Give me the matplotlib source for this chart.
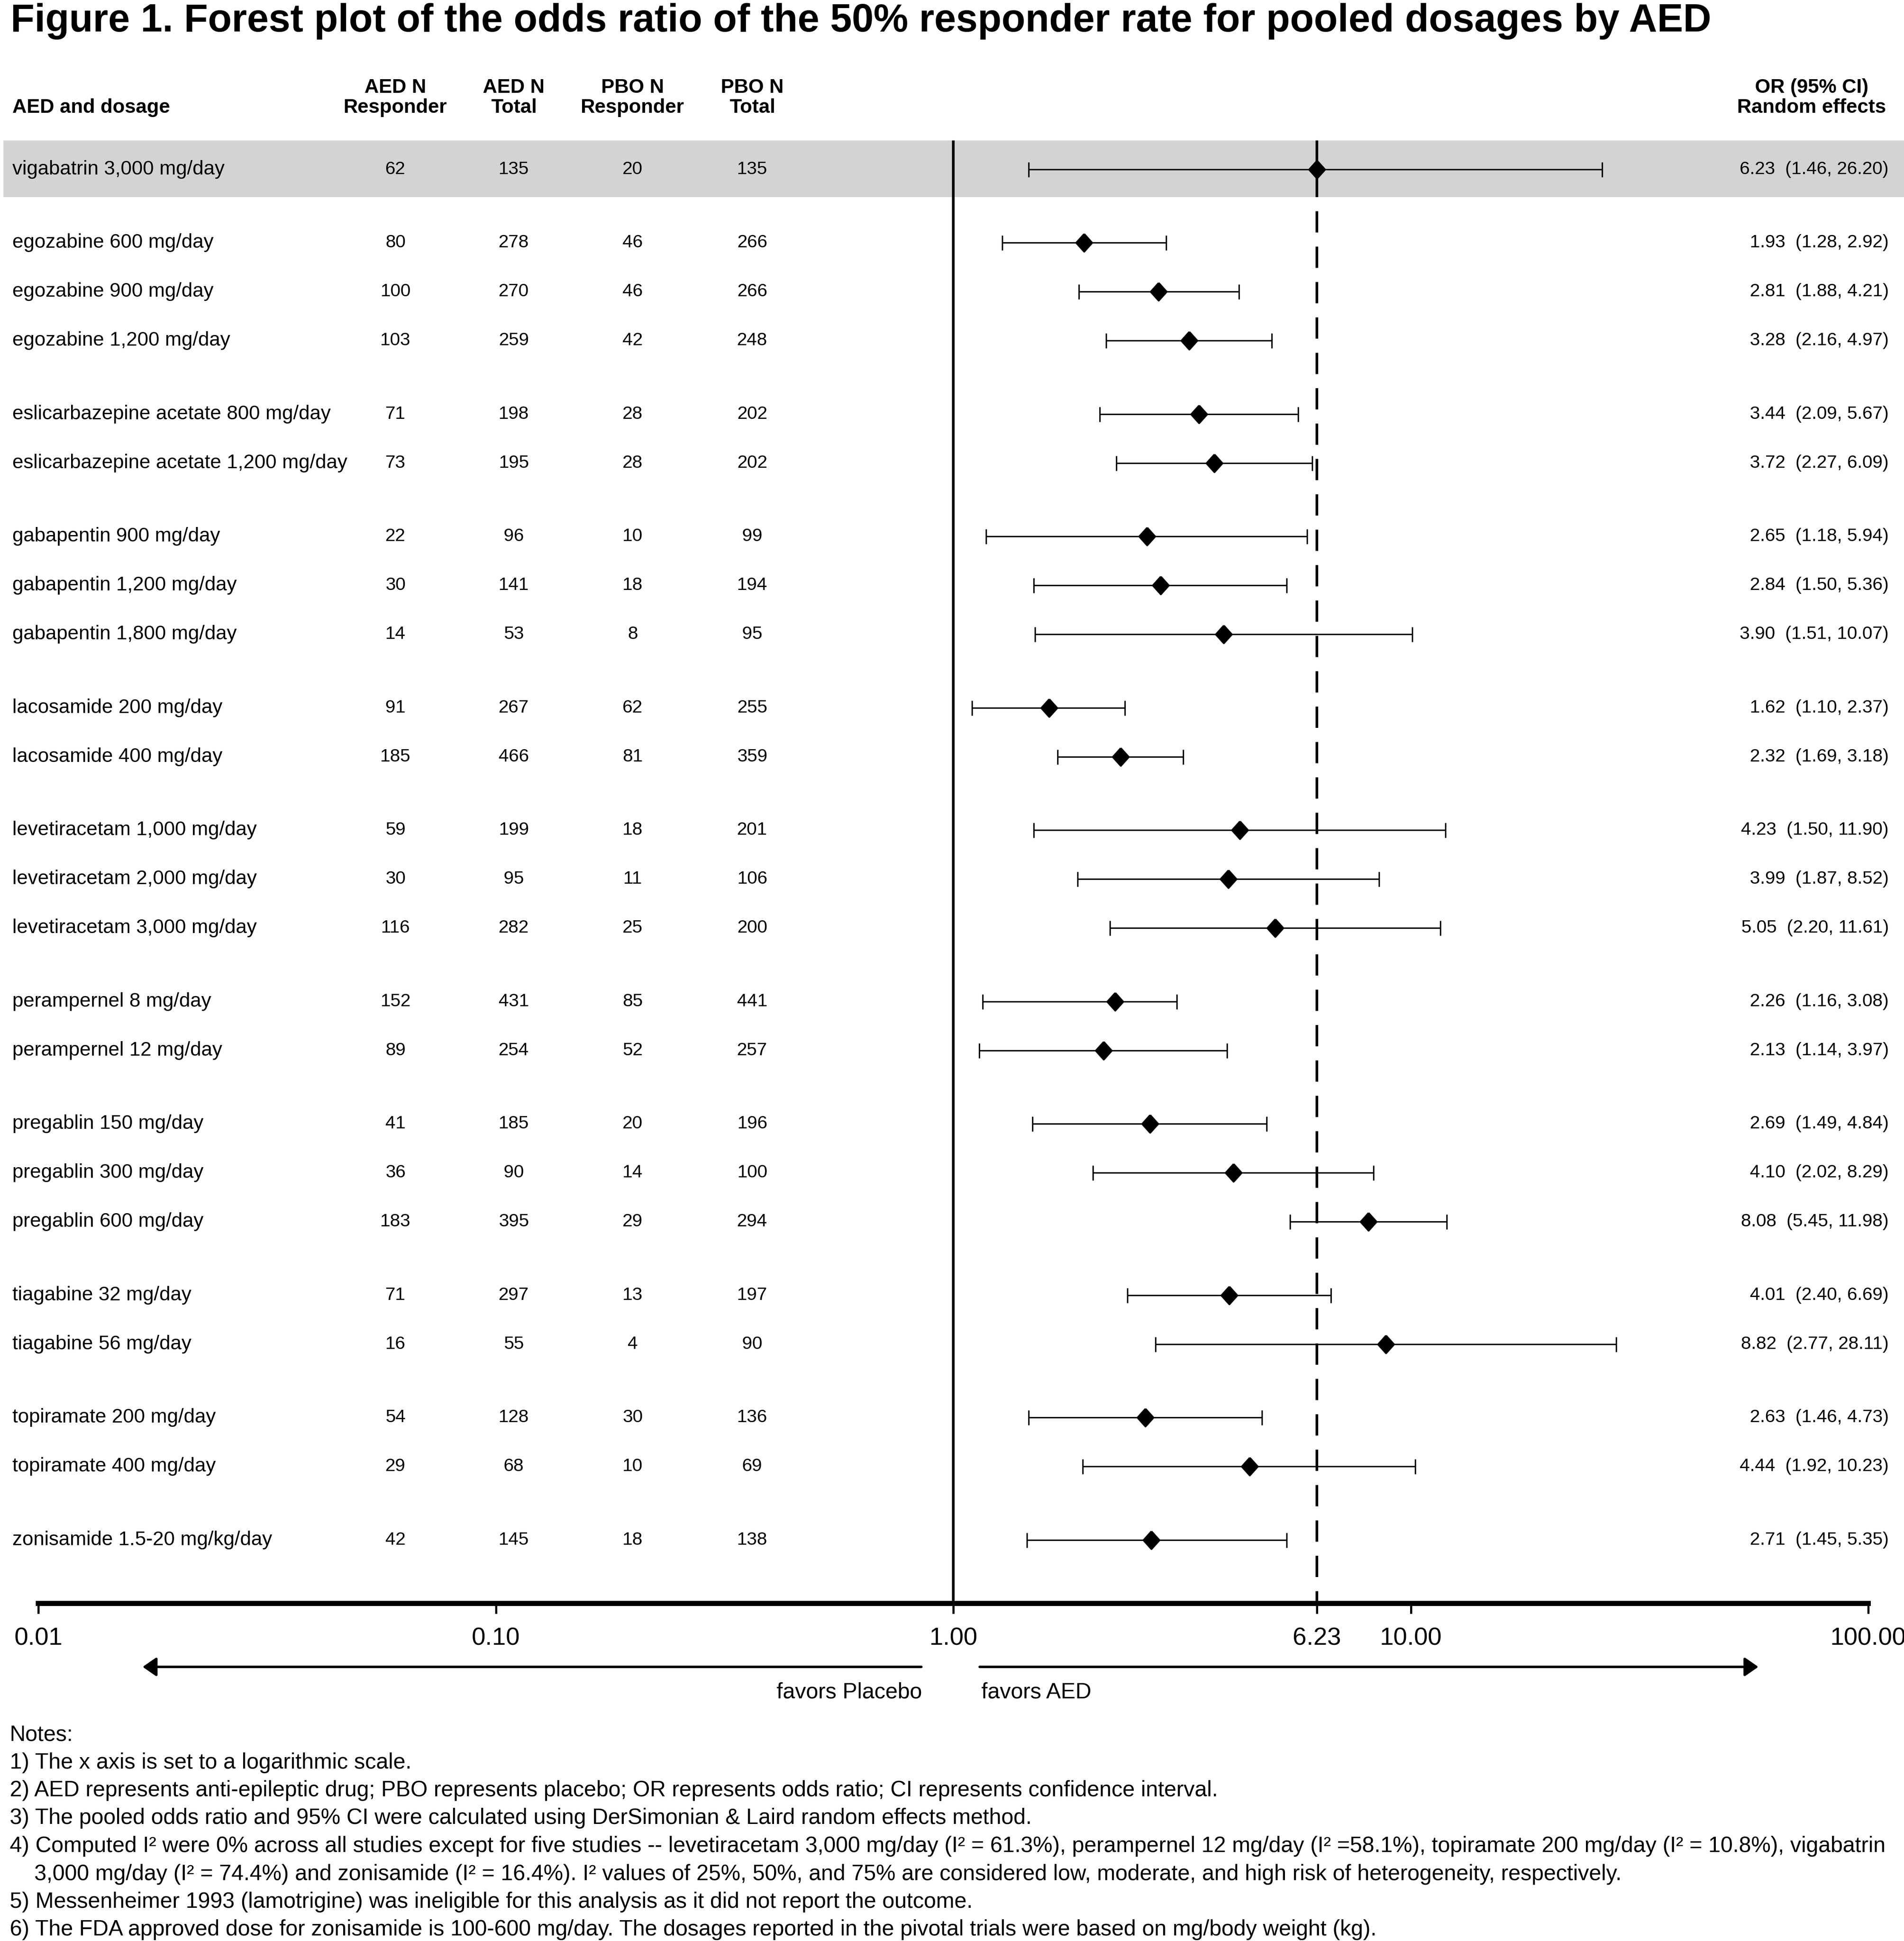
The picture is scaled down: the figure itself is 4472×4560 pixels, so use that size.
# Forest plot: odds ratio of the 50% responder rate by AED
import matplotlib.pyplot as plt
from matplotlib import transforms
from matplotlib.patches import Rectangle, FancyArrowPatch
from matplotlib.ticker import NullLocator

plt.rcParams['font.family'] = ['Liberation Sans', 'DejaVu Sans']

# datos
labels = ['vigabatrin 3,000 mg/day',
          'egozabine 600 mg/day', 'egozabine 900 mg/day', 'egozabine 1,200 mg/day',
          'eslicarbazepine acetate 800 mg/day', 'eslicarbazepine acetate 1,200 mg/day',
          'gabapentin 900 mg/day', 'gabapentin 1,200 mg/day', 'gabapentin 1,800 mg/day',
          'lacosamide 200 mg/day', 'lacosamide 400 mg/day',
          'levetiracetam 1,000 mg/day', 'levetiracetam 2,000 mg/day', 'levetiracetam 3,000 mg/day',
          'perampernel 8 mg/day', 'perampernel 12 mg/day',
          'pregablin 150 mg/day', 'pregablin 300 mg/day', 'pregablin 600 mg/day',
          'tiagabine 32 mg/day', 'tiagabine 56 mg/day',
          'topiramate 200 mg/day', 'topiramate 400 mg/day',
          'zonisamide 1.5-20 mg/kg/day']
group_sizes = [1, 3, 2, 3, 2, 3, 2, 3, 2, 2, 1]
aed_resp = [62, 80, 100, 103, 71, 73, 22, 30, 14, 91, 185, 59, 30, 116, 152, 89, 41, 36, 183, 71, 16, 54, 29, 42]
aed_total = [135, 278, 270, 259, 198, 195, 96, 141, 53, 267, 466, 199, 95, 282, 431, 254, 185, 90, 395, 297, 55, 128, 68, 145]
pbo_resp = [20, 46, 46, 42, 28, 28, 10, 18, 8, 62, 81, 18, 11, 25, 85, 52, 20, 14, 29, 13, 4, 30, 10, 18]
pbo_total = [135, 266, 266, 248, 202, 202, 99, 194, 95, 255, 359, 201, 106, 200, 441, 257, 196, 100, 294, 197, 90, 136, 69, 138]
odds = [6.23, 1.93, 2.81, 3.28, 3.44, 3.72, 2.65, 2.84, 3.90, 1.62, 2.32, 4.23, 3.99, 5.05,
        2.26, 2.13, 2.69, 4.10, 8.08, 4.01, 8.82, 2.63, 4.44, 2.71]
ci_low = [1.46, 1.28, 1.88, 2.16, 2.09, 2.27, 1.18, 1.50, 1.51, 1.10, 1.69, 1.50, 1.87, 2.20,
          1.16, 1.14, 1.49, 2.02, 5.45, 2.40, 2.77, 1.46, 1.92, 1.45]
ci_high = [26.20, 2.92, 4.21, 4.97, 5.67, 6.09, 5.94, 5.36, 10.07, 2.37, 3.18, 11.90, 8.52, 11.61,
           3.08, 3.97, 4.84, 8.29, 11.98, 6.69, 28.11, 4.73, 10.23, 5.35]
pooled = 6.23
xticks = [0.01, 0.1, 1, pooled, 10, 100]
xticklabels = ['0.01', '0.10', '1.00', '6.23', '10.00', '100.00']

notes = [
    'Notes:',
    '1) The x axis is set to a logarithmic scale.',
    '2) AED represents anti-epileptic drug; PBO represents placebo; OR represents odds ratio; CI represents confidence interval.',
    '3) The pooled odds ratio and 95% CI were calculated using DerSimonian & Laird random effects method.',
    '4) Computed I\u00b2 were 0% across all studies except for five studies -- levetiracetam 3,000 mg/day (I\u00b2 = 61.3%), '
    'perampernel 12 mg/day (I\u00b2 =58.1%), topiramate 200 mg/day (I\u00b2 = 10.8%), vigabatrin',
    '    3,000 mg/day (I\u00b2 = 74.4%) and zonisamide (I\u00b2 = 16.4%). I\u00b2 values of 25%, 50%, and 75% are considered '
    'low, moderate, and high risk of heterogeneity, respectively.',
    '5) Messenheimer 1993 (lamotrigine) was ineligible for this analysis as it did not report the outcome.',
    '6) The FDA approved dose for zonisamide is 100-600 mg/day. The dosages reported in the pivotal trials were based on mg/body weight (kg).',
]

# posiciones de filas (hueco de media fila entre grupos)
ypos = []
for g, n in enumerate(group_sizes):
    for i in range(n):
        ypos.append(len(ypos) + 0.5 * g)

W, H = 4472, 4560
fig = plt.figure(figsize=(W / 300, H / 300), dpi=300)


def fx(px):
    return px / W


def fy(py):
    return 1 - py / H


ax = fig.add_axes([fx(90), fy(3767), fx(4388) - fx(90), fy(330) - fy(3767)])
ax.patch.set_visible(False)
ax.set_xscale('log')
ax.set_xlim(0.01, 100)
ax.set_ylim(ypos[-1] + 1.3, -0.59)
trans = transforms.blended_transform_factory(fig.transFigure, ax.transData)

# fila resaltada
ax.add_patch(Rectangle((fx(8), -0.59), 1 - fx(8), 1.155, transform=trans,
                       facecolor='#d3d3d3', edgecolor='none', zorder=0, clip_on=False))

ax.axvline(1, color='black', lw=1.5, zorder=2)
ax.plot([pooled, pooled], [-0.59, ypos[-1] + 1.3], color='black', lw=1.5,
        ls=(0, (8, 5.3)), zorder=2)

err = [[o - l for o, l in zip(odds, ci_low)], [h - o for o, h in zip(odds, ci_high)]]
ax.errorbar(odds, ypos, xerr=err, fmt='none', ecolor='black', elinewidth=0.8,
            capsize=4.2, capthick=0.8, zorder=3)
diamond = [(0, 1), (0.9, 0), (0, -1), (-0.9, 0), (0, 1)]
ax.plot(odds, ypos, ls='none', marker=diamond, ms=10, color='black', zorder=4)

# eje x
for s in ['top', 'left', 'right']:
    ax.spines[s].set_visible(False)
ax.spines['bottom'].set_linewidth(2.9)
ax.set_yticks([])
ax.set_xticks(xticks)
ax.set_xticklabels(xticklabels)
ax.xaxis.set_minor_locator(NullLocator())
ax.tick_params(axis='x', length=5.8, width=1.2, pad=7.5, labelsize=14)

# tabla
fs_lab = 11.2
fs_num = 10.3
fs_note = 12.4
cols = [929, 1207, 1486, 1767]
for i, y in enumerate(ypos):
    ax.text(fx(29), y, labels[i], transform=trans, fontsize=fs_lab, va='center', ha='left')
    for c, v in zip(cols, [aed_resp[i], aed_total[i], pbo_resp[i], pbo_total[i]]):
        ax.text(fx(c), y, str(v), transform=trans, fontsize=fs_num, va='center', ha='center')
    ax.text(fx(4436), y, f'{odds[i]:.2f}  ({ci_low[i]:.2f}, {ci_high[i]:.2f})', transform=trans,
            fontsize=fs_num, va='center', ha='right')

# encabezados
hdr1 = ['AED N', 'AED N', 'PBO N', 'PBO N']
hdr2 = ['Responder', 'Total', 'Responder', 'Total']
for c, a, b in zip(cols, hdr1, hdr2):
    fig.text(fx(c), fy(218), a, fontsize=fs_lab, fontweight='bold', ha='center', va='baseline')
    fig.text(fx(c), fy(265), b, fontsize=fs_lab, fontweight='bold', ha='center', va='baseline')
fig.text(fx(29), fy(265), 'AED and dosage', fontsize=fs_lab, fontweight='bold', ha='left', va='baseline')
fig.text(fx(4255), fy(218), 'OR (95% CI)', fontsize=fs_lab, fontweight='bold', ha='center', va='baseline')
fig.text(fx(4255), fy(265), 'Random effects', fontsize=fs_lab, fontweight='bold', ha='center', va='baseline')

fig.text(fx(25), fy(74), 'Figure 1. Forest plot of the odds ratio of the 50% responder rate for pooled dosages by AED',
         fontsize=22, fontweight='bold', ha='left', va='baseline')

# flechas
fig.add_artist(FancyArrowPatch((fx(2164), fy(3916)), (fx(335), fy(3916)), transform=fig.transFigure,
                               arrowstyle='-|>,head_length=0.65,head_width=0.45', mutation_scale=10,
                               lw=1.4, color='black', shrinkA=0, shrinkB=0))
fig.add_artist(FancyArrowPatch((fx(2301), fy(3916)), (fx(4130), fy(3916)), transform=fig.transFigure,
                               arrowstyle='-|>,head_length=0.65,head_width=0.45', mutation_scale=10,
                               lw=1.4, color='black', shrinkA=0, shrinkB=0))
fig.text(fx(2165), fy(3990), 'favors Placebo', fontsize=fs_note, ha='right', va='baseline')
fig.text(fx(2305), fy(3990), 'favors AED', fontsize=fs_note, ha='left', va='baseline')

# notas
for k, line in enumerate(notes):
    fig.text(fx(23), fy(4089 + 65.5 * k), line, fontsize=fs_note, ha='left', va='baseline')

fig.savefig('out.png', dpi=300)
